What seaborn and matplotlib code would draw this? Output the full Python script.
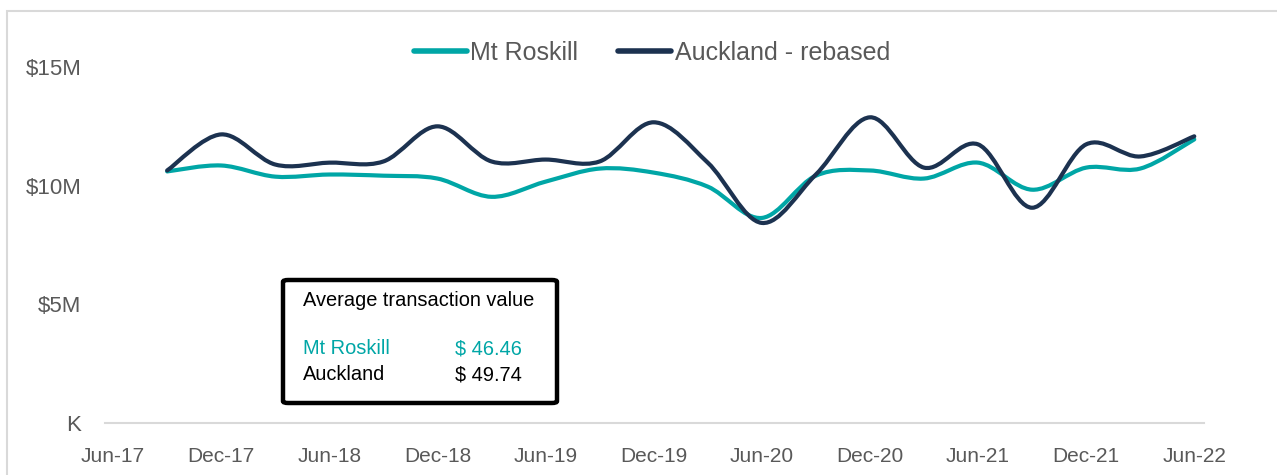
import numpy as np
import pandas as pd
import matplotlib
matplotlib.use("Agg")
import matplotlib.pyplot as plt
from matplotlib.path import Path
from matplotlib.patches import PathPatch, FancyBboxPatch, Rectangle
import seaborn as sns

# quarterly values, $M (Auckland rebased to Mt Roskill)
quarters = ["Sep-17", "Dec-17", "Mar-18", "Jun-18", "Sep-18", "Dec-18", "Mar-19", "Jun-19",
            "Sep-19", "Dec-19", "Mar-20", "Jun-20", "Sep-20", "Dec-20", "Mar-21", "Jun-21",
            "Sep-21", "Dec-21", "Mar-22", "Jun-22"]
mt_roskill = [10.60, 10.85, 10.38, 10.47, 10.42, 10.30, 9.53, 10.17, 10.72, 10.55,
              9.96, 8.64, 10.42, 10.64, 10.30, 10.97, 9.83, 10.76, 10.72, 11.95]
auckland = [10.64, 12.16, 10.89, 10.97, 11.02, 12.50, 11.02, 11.10, 11.02, 12.67,
            10.97, 8.43, 10.47, 12.88, 10.76, 11.74, 9.07, 11.74, 11.23, 12.08]
series_names = ["Mt Roskill", "Auckland - rebased"]
tick_labels = ["Jun-17", "Dec-17", "Jun-18", "Dec-18", "Jun-19", "Dec-19",
               "Jun-20", "Dec-20", "Jun-21", "Dec-21", "Jun-22"]
yticks = [0, 5, 10, 15]
ytick_labels = ["K", "$5M", "$10M", "$15M"]
box_title = "Average transaction value"
box_rows = ["Mt Roskill", "Auckland"]
box_values = ["$ 46.46", "$ 49.74"]

TEAL = "#00A6A6"
NAVY = "#1C3250"
GREY = "#595959"

sns.set_style("white")
plt.rcParams["font.family"] = ["Liberation Sans", "DejaVu Sans"]

df = pd.DataFrame({
    "pos": list(range(len(quarters))) * 2,
    "value": mt_roskill + auckland,
    "series": [series_names[0]] * len(quarters) + [series_names[1]] * len(quarters),
})

fig = plt.figure(figsize=(12.77, 4.75), dpi=100)
ax = fig.add_axes([105 / 1277, 52 / 475, 1099 / 1277, 356 / 475])

sns.lineplot(data=df, x="pos", y="value", hue="series",
             palette=[TEAL, NAVY], linewidth=3.0, ax=ax)


def smooth_path(x, y):
    # excel style smoothed line: cubic bezier with catmull-rom handles
    pts = np.column_stack([x, y])
    n = len(pts)
    verts = [pts[0]]
    codes = [Path.MOVETO]
    for i in range(n - 1):
        p0 = pts[max(i - 1, 0)]
        p1 = pts[i]
        p2 = pts[i + 1]
        p3 = pts[min(i + 2, n - 1)]
        verts += [p1 + (p2 - p0) / 6, p2 - (p3 - p1) / 6, p2]
        codes += [Path.CURVE4] * 3
    return Path(verts, codes)


for line in list(ax.lines):
    xd = np.asarray(line.get_xdata(), float)
    yd = np.asarray(line.get_ydata(), float)
    if len(xd) < 2:
        continue
    patch = PathPatch(smooth_path(xd, yd),
                      facecolor="none", edgecolor=line.get_color(),
                      linewidth=3.0, capstyle="round", joinstyle="round", zorder=3)
    ax.add_patch(patch)
    line.set_visible(False)

ax.set_xlim(-1.15, 19.18)
ax.set_ylim(0, 15)
ax.set_xticks(np.arange(-1, len(quarters), 2))
ax.set_xticklabels(tick_labels)
ax.set_yticks(yticks)
ax.set_yticklabels(ytick_labels)
ax.tick_params(axis="x", length=0, pad=17, labelsize=15, labelcolor=GREY)
ax.tick_params(axis="y", length=0, pad=17, labelsize=16, labelcolor=GREY)
ax.set_xlabel("")
ax.set_ylabel("")
for s in ["top", "right", "left"]:
    ax.spines[s].set_visible(False)
ax.spines["bottom"].set_color("#d9d9d9")
ax.spines["bottom"].set_linewidth(1.5)

sns.move_legend(ax, "center", bbox_to_anchor=(0.5105, 0.889), bbox_transform=fig.transFigure,
                ncol=2, frameon=False, title=None, fontsize=18,
                handlelength=2.1, handletextpad=0.15, columnspacing=1.6)
for t in ax.get_legend().get_texts():
    t.set_color(GREY)
for h in ax.get_legend().legend_handles:
    h.set_linewidth(4)
    h.set_solid_capstyle("round")

# outer chart border
fig.patches.append(Rectangle((7 / 1277, -0.1), 1.2, (475 - 11) / 475 + 0.1,
                             transform=fig.transFigure, fill=False,
                             edgecolor="#d9d9d9", linewidth=1.5))

# summary box
fig.patches.append(FancyBboxPatch((283 / 1277, (475 - 403) / 475), 274 / 1277, 123 / 475,
                                  boxstyle="round,pad=0,rounding_size=0.004",
                                  transform=fig.transFigure, facecolor="white",
                                  edgecolor="black", linewidth=3.2, zorder=5))
fig.text(303 / 1277, (475 - 301) / 475, box_title, fontsize=14.4, color="black",
         va="center", ha="left", zorder=6)
row_colors = [TEAL, "black"]
for i, (name, val) in enumerate(zip(box_rows, box_values)):
    yy = (475 - (349 + 26 * i)) / 475
    fig.text(303 / 1277, yy, name, fontsize=14.4, color=row_colors[i], va="center", ha="left", zorder=6)
    fig.text(455 / 1277, yy, val, fontsize=14.4, color=row_colors[i], va="center", ha="left", zorder=6)

fig.savefig("out.png", dpi=100, facecolor="white")
